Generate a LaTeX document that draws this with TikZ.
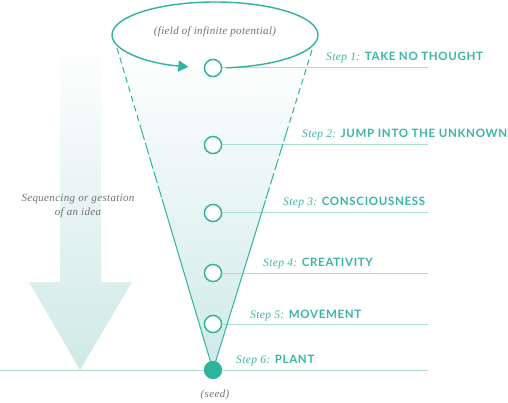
\documentclass[tikz,border=0pt]{standalone}
\usepackage{fontspec}
\newfontfamily\capsfont{Lato}[LetterSpace=6]
\newfontfamily\itfont{Liberation Serif}[LetterSpace=3]
\usetikzlibrary{arrows.meta,calc}
\definecolor{teal}{HTML}{2DB39E}
\definecolor{tealtext}{HTML}{3AB5A5}
\definecolor{lightline}{HTML}{A9DDD6}
\definecolor{fillteal}{HTML}{CFEAE6}
\definecolor{graytext}{HTML}{707070}
\tikzset{
  stepdot/.style={circle, draw=teal, line width=1.3pt, fill=white, minimum size=17pt, inner sep=0pt},
  seeddot/.style={circle, fill=teal, minimum size=18pt, inner sep=0pt},
  hline/.style={draw=lightline, line width=1pt},
  coneedge/.style={draw=teal, line width=1pt},
  loopline/.style={draw=teal, line width=1.4pt},
  steplabel/.style={anchor=base west, inner sep=0pt, text=tealtext, font=\itfont\fontsize{11.5}{12}\selectfont},
  graylabel/.style={text=graytext, font=\itfont\fontsize{11}{14}\selectfont\itshape, align=center, inner sep=0pt}
}
\newcommand{\stepcaps}[1]{{\capsfont\bfseries\fontsize{11.5}{12}\selectfont #1}}
\begin{document}
\begin{tikzpicture}[x=1pt,y=-1pt]
\useasboundingbox (0,0) rectangle (508,403);
% big left arrow
\shade[top color=white, bottom color=fillteal] (60,40) -- (101,40) -- (101,282) -- (132,282) -- (80,370) -- (29,282) -- (60,282) -- cycle;
% cone
\coordinate (ctl) at (117,48);
\coordinate (ctr) at (312,50);
\coordinate (apex) at (213,370);
\shade[top color=white, bottom color=fillteal] (ctl) -- (ctr) -- (apex) -- cycle;
\fill[white] (215,35) ellipse [x radius=103, y radius=33];
% horizontal lines
\coordinate (e1) at (428,68);
\coordinate (e2) at (428,145);
\coordinate (e3) at (428,213);
\coordinate (e4) at (428,273);
\coordinate (e5) at (428,324);
\coordinate (e6) at (428,370);
\coordinate (e0) at (0,370);
\node[stepdot] (s1) at (213,68) {};
\node[stepdot] (s2) at (213,145) {};
\node[stepdot] (s3) at (213,213) {};
\node[stepdot] (s4) at (213,273) {};
\node[stepdot] (s5) at (213,324) {};
\node[seeddot] (s6) at (213,370) {};
\draw[hline] (s1.east) -- (e1);
\draw[hline] (s2.east) -- (e2);
\draw[hline] (s3.east) -- (e3);
\draw[hline] (s4.east) -- (e4);
\draw[hline] (s5.east) -- (e5);
\draw[hline] (e0) -- (e6);
% cone edges
\coordinate (la) at ($(ctl)!0.25!(apex)$);
\coordinate (lb) at ($(ctl)!0.47!(apex)$);
\coordinate (ra) at ($(ctr)!0.25!(apex)$);
\coordinate (rb) at ($(ctr)!0.47!(apex)$);
\draw[coneedge, dash pattern=on 6pt off 4pt] (ctl) -- (la);
\draw[coneedge, dash pattern=on 12pt off 3pt] (la) -- (lb);
\draw[coneedge] (lb) -- (apex);
\draw[coneedge, dash pattern=on 6pt off 4pt] (ctr) -- (ra);
\draw[coneedge, dash pattern=on 12pt off 3pt] (ra) -- (rb);
\draw[coneedge] (rb) -- (apex);
% loop
\draw[loopline, -{Triangle[length=10pt,width=11pt]}] (215,35) ++(84:103 and 33) arc[start angle=84, end angle=-255, x radius=103, y radius=33];
% redraw dots on top
\node[stepdot] at (s1) {};
\node[stepdot] at (s2) {};
\node[stepdot] at (s3) {};
\node[stepdot] at (s4) {};
\node[stepdot] at (s5) {};
\node[seeddot] at (s6) {};
% labels
\node[steplabel] (l1) at (326,61) {\textit{Step 1:} \stepcaps{TAKE NO THOUGHT}};
\node[steplabel] (l2) at (302,138) {\textit{Step 2:} \stepcaps{JUMP INTO THE UNKNOWN}};
\node[steplabel] (l3) at (283,206) {\textit{Step 3:} \stepcaps{CONSCIOUSNESS}};
\node[steplabel] (l4) at (263,266) {\textit{Step 4:} \stepcaps{CREATIVITY}};
\node[steplabel] (l5) at (250,318) {\textit{Step 5:} \stepcaps{MOVEMENT}};
\node[steplabel] (l6) at (236,363) {\textit{Step 6:} \stepcaps{PLANT}};
\node[graylabel] (field) at (215,32) {(field of infinite potential)};
\node[graylabel] (seed) at (215,395) {(seed)};
\node[graylabel] (seq) at (78,206) {Sequencing or gestation\\of an idea};
\end{tikzpicture}
\end{document}
